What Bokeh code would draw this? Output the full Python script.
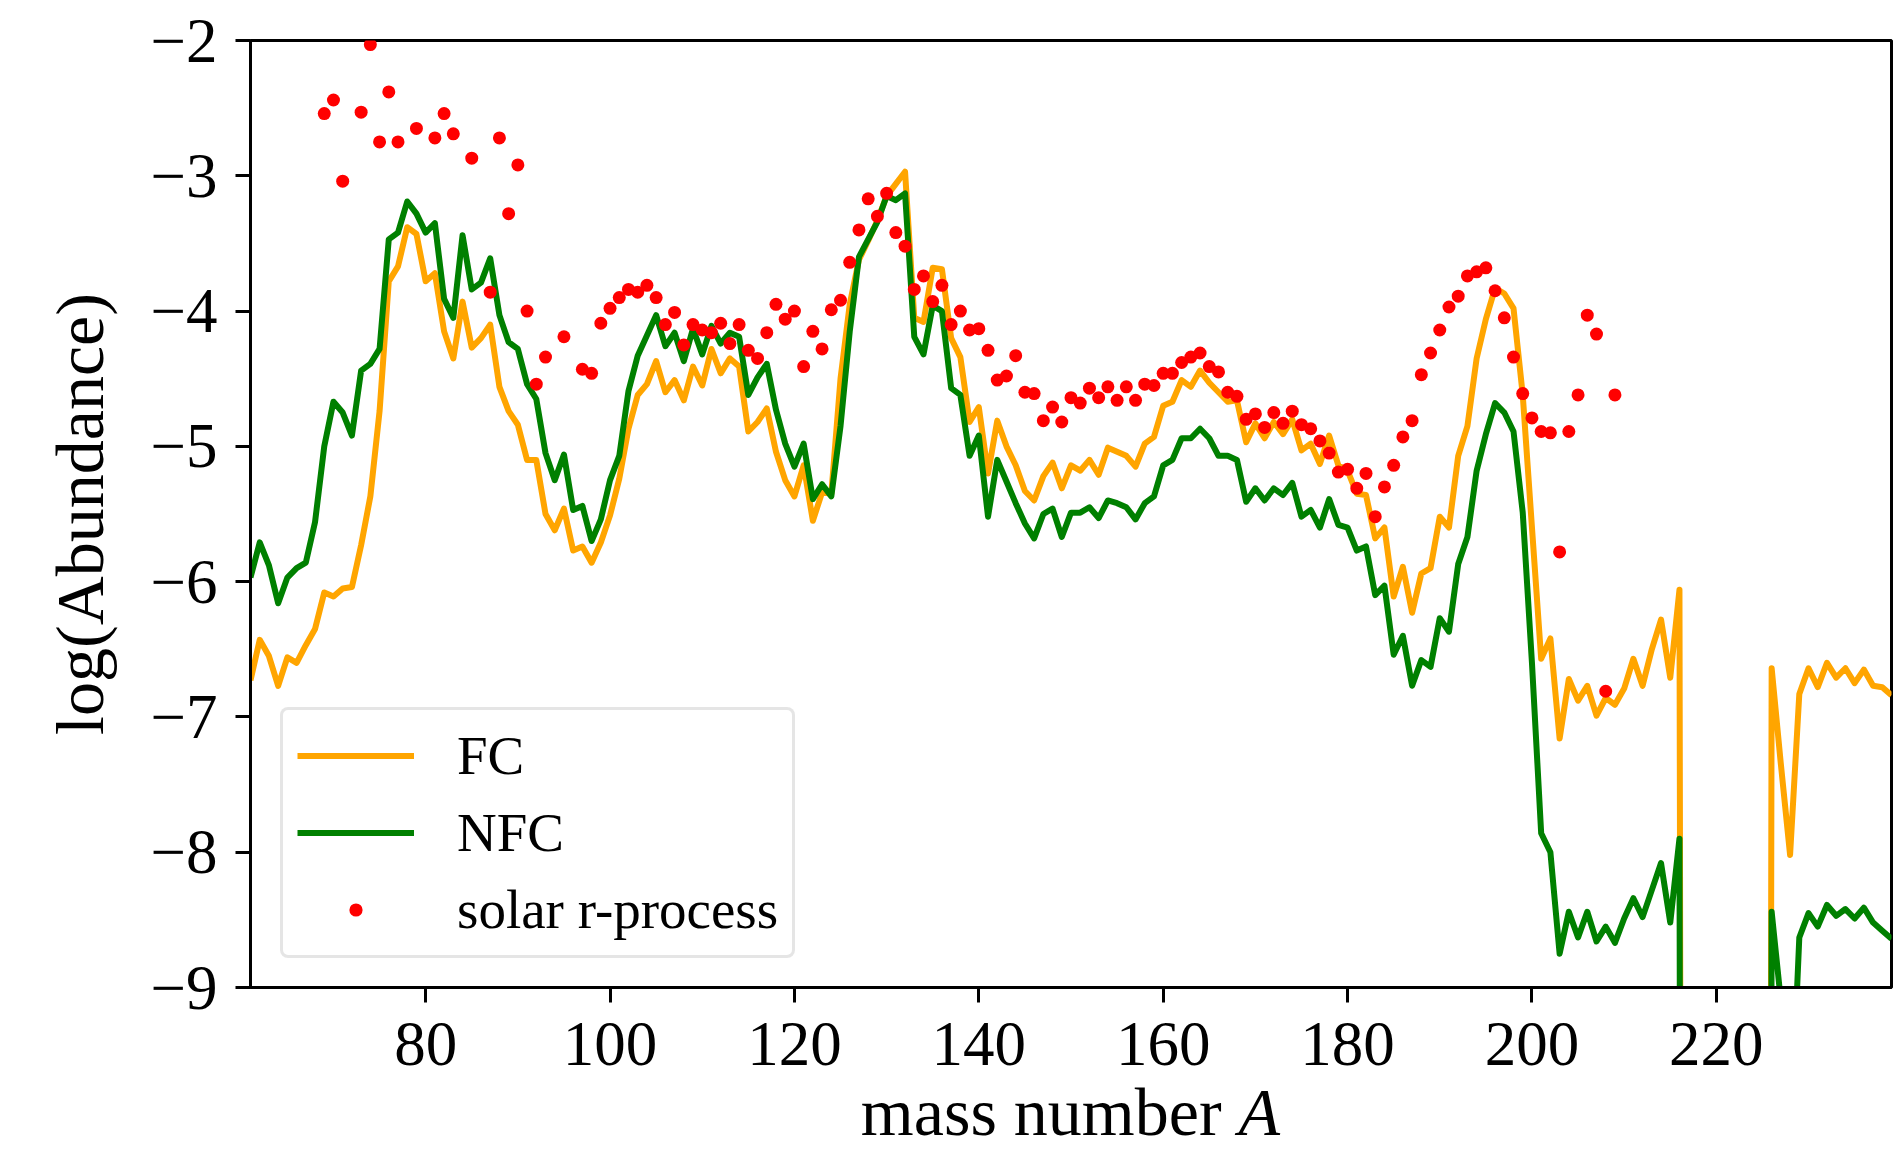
from bokeh.plotting import figure
from bokeh.models import Range1d, FixedTicker, Div
from bokeh.layouts import column
from bokeh.embed import file_html
from bokeh.resources import INLINE

FLOOR = -40.0  # abundance effectively zero: line drops off the plot

mass_A = list(range(61, 240))

fc = [-6.73, -6.43, -6.55, -6.77, -6.56, -6.60, -6.47, -6.35, -6.08, -6.11,
      -6.05, -6.04, -5.73, -5.37, -4.74, -3.78, -3.67, -3.38, -3.43, -3.78,
      -3.72, -4.15, -4.35, -3.93, -4.27, -4.20, -4.10, -4.56, -4.74, -4.84,
      -5.10, -5.10, -5.50, -5.62, -5.46, -5.77, -5.74, -5.86, -5.71, -5.51,
      -5.24, -4.87, -4.62, -4.54, -4.37, -4.60, -4.51, -4.66, -4.41, -4.55,
      -4.28, -4.46, -4.35, -4.41, -4.89, -4.82, -4.72, -5.04, -5.25, -5.37,
      -5.14, -5.55, -5.34, -5.35, -4.50, -3.95, -3.62, -3.48, -3.33, -3.15,
      -3.06, -2.97, -4.05, -4.08, -3.68, -3.69, -4.20, -4.34, -4.82, -4.71,
      -5.20, -4.81, -5.00, -5.14, -5.33, -5.40, -5.22, -5.12, -5.31, -5.14,
      -5.18, -5.10, -5.21, -5.01, -5.04, -5.07, -5.15, -4.98, -4.93, -4.70,
      -4.67, -4.51, -4.56, -4.44, -4.53, -4.60, -4.67, -4.66, -4.97, -4.83,
      -4.94, -4.82, -4.91, -4.80, -5.03, -4.98, -5.13, -4.92, -5.14, -5.18,
      -5.35, -5.36, -5.68, -5.60, -6.11, -5.89, -6.23, -5.94, -5.90, -5.52,
      -5.60, -5.07, -4.85, -4.35, -4.06, -3.83, -3.87, -3.98, -4.62, -5.60,
      -6.57, -6.42, -7.16, -6.72, -6.88, -6.77, -6.99, -6.86, -6.91, -6.79,
      -6.57, -6.77, -6.50, -6.28, -6.71, -6.06, FLOOR, FLOOR, FLOOR, FLOOR,
      FLOOR, FLOOR, FLOOR, FLOOR, FLOOR, -6.64, -7.35, -8.02, -6.83, -6.64,
      -6.78, -6.60, -6.71, -6.64, -6.75, -6.65, -6.77, -6.78, -6.84]

nfc = [-5.97, -5.71, -5.88, -6.16, -5.97, -5.90, -5.86, -5.56, -5.00, -4.67,
       -4.75, -4.92, -4.44, -4.39, -4.28, -3.47, -3.42, -3.19, -3.28, -3.42,
       -3.35, -3.91, -4.05, -3.44, -3.84, -3.79, -3.61, -4.03, -4.23, -4.28,
       -4.54, -4.65, -5.05, -5.25, -5.06, -5.47, -5.44, -5.70, -5.54, -5.25,
       -5.07, -4.59, -4.33, -4.18, -4.03, -4.26, -4.16, -4.37, -4.13, -4.32,
       -4.11, -4.24, -4.16, -4.19, -4.62, -4.49, -4.39, -4.73, -4.98, -5.15,
       -4.98, -5.39, -5.28, -5.37, -4.85, -4.15, -3.60, -3.47, -3.34, -3.15,
       -3.18, -3.13, -4.19, -4.32, -3.96, -4.00, -4.57, -4.62, -5.07, -4.92,
       -5.52, -5.10, -5.26, -5.42, -5.57, -5.68, -5.50, -5.46, -5.67, -5.49,
       -5.49, -5.45, -5.53, -5.40, -5.42, -5.45, -5.54, -5.42, -5.37, -5.14,
       -5.10, -4.94, -4.94, -4.87, -4.94, -5.07, -5.07, -5.10, -5.41, -5.31,
       -5.40, -5.31, -5.36, -5.27, -5.52, -5.47, -5.60, -5.39, -5.58, -5.60,
       -5.77, -5.74, -6.10, -6.03, -6.54, -6.40, -6.77, -6.58, -6.63, -6.27,
       -6.37, -5.87, -5.67, -5.18, -4.91, -4.68, -4.75, -4.89, -5.49, -6.60,
       -7.86, -8.00, -8.75, -8.44, -8.63, -8.44, -8.66, -8.55, -8.67, -8.49,
       -8.34, -8.48, -8.28, -8.08, -8.52, -7.90, FLOOR, FLOOR, FLOOR, FLOOR,
       FLOOR, FLOOR, FLOOR, FLOOR, FLOOR, -8.44, -9.10, -10.2, -8.63, -8.45,
       -8.55, -8.39, -8.47, -8.42, -8.49, -8.41, -8.52, -8.58, -8.64]

solar_A = [69, 70, 71, 73, 74, 75, 76, 77, 79, 81, 82, 83, 85, 87, 88, 89, 90,
           91, 92, 93, 95] + list(range(97, 210))

solar = [-2.54, -2.44, -3.04, -2.53, -2.03, -2.75, -2.38, -2.75, -2.65, -2.72,
         -2.54, -2.69, -2.87, -3.86, -2.72, -3.28, -2.92, -4.00, -4.54, -4.34,
         -4.19,
         -4.43, -4.46, -4.09, -3.98,
         -3.90, -3.84, -3.86, -3.81, -3.90, -4.10, -4.01, -4.25, -4.10, -4.14,
         -4.16, -4.09, -4.24, -4.10, -4.29, -4.35, -4.16, -3.95, -4.06, -4.00,
         -4.41, -4.15, -4.28, -3.99, -3.92, -3.64, -3.40, -3.17, -3.30, -3.13,
         -3.42, -3.52, -3.84, -3.74, -3.93, -3.81, -4.10, -4.00, -4.14, -4.13,
         -4.29, -4.51, -4.48, -4.33, -4.60, -4.61, -4.81, -4.71, -4.82, -4.64,
         -4.68, -4.57, -4.64, -4.56, -4.66, -4.56, -4.66, -4.54, -4.55, -4.46,
         -4.46, -4.38, -4.34, -4.31, -4.41, -4.45, -4.60, -4.63, -4.80, -4.76,
         -4.86, -4.75, -4.83, -4.74, -4.84, -4.87, -4.96, -5.05, -5.19, -5.17,
         -5.31, -5.20, -5.52, -5.30, -5.14, -4.93, -4.81, -4.47, -4.31, -4.14,
         -3.97, -3.89, -3.74, -3.71, -3.68, -3.85, -4.05, -4.34, -4.61, -4.79,
         -4.89, -4.90, -5.78, -4.89, -4.62, -4.03, -4.17, -6.81, -4.62]

x_ticks = [80, 100, 120, 140, 160, 180, 200, 220]
y_ticks = [-9, -8, -7, -6, -5, -4, -3, -2]
y_tick_labels = {t: "\u2212" + str(abs(t)) for t in y_ticks}

assert len(fc) == len(mass_A) == len(nfc)
assert len(solar) == len(solar_A)

FONT = "Liberation Serif"
W, H = 1893, 1085
LEFT, TOP, RIGHT = 250, 40, 2
FRAME_H = 947
X0, X1, Y0, Y1 = 61, 239, -9, -2

p = figure(width=W, height=H, output_backend="svg", toolbar_location=None,
           x_range=Range1d(X0, X1), y_range=Range1d(Y0, Y1),
           min_border_left=LEFT, min_border_top=TOP, min_border_right=RIGHT,
           min_border_bottom=H - TOP - FRAME_H)

p.line(mass_A, fc, color="#FFA500", line_width=6, line_join="round", legend_label="FC")
p.line(mass_A, nfc, color="#008000", line_width=6, line_join="round", legend_label="NFC")
p.scatter(solar_A, solar, size=13, color="#FF0000", line_color=None,
          legend_label="solar r-process")

p.grid.visible = False
p.outline_line_color = "black"
p.outline_line_width = 3
p.outline_line_alpha = 1

for ax in (p.xaxis[0], p.yaxis[0]):
    ax.axis_line_width = 3
    ax.major_tick_line_width = 3
    ax.major_tick_out = 15
    ax.major_tick_in = 0
    ax.minor_tick_line_color = None
    ax.major_label_text_font = FONT
    ax.major_label_text_font_size = "63px"
    ax.major_label_text_color = "black"
    ax.axis_label_text_font = FONT
    ax.axis_label_text_font_style = "normal"
    ax.axis_label_text_font_size = "68px"
    ax.axis_label_text_color = "black"

p.xaxis.ticker = FixedTicker(ticks=x_ticks)
p.yaxis.ticker = FixedTicker(ticks=y_ticks)
p.yaxis.major_label_overrides = y_tick_labels
p.xaxis.major_label_standoff = 20
p.xaxis.major_label_text_line_height = 1.0
p.yaxis.major_label_standoff = 18
p.yaxis.axis_label = "log(Abundance)"
p.yaxis.axis_label_standoff = 29

lg = p.legend[0]
lg.location = (30, 29)
lg.margin = 0
lg.padding = 14
lg.spacing = 14
lg.glyph_width = 117
lg.glyph_height = 33
lg.label_height = 60
lg.label_standoff = 43
lg.label_text_font = FONT
lg.label_text_font_size = "55px"
lg.label_text_color = "black"
lg.border_line_color = "#cccccc"
lg.border_line_width = 3
lg.background_fill_color = "white"
lg.background_fill_alpha = 0.8
if "border_radius" in lg.properties():
    lg.border_radius = 8

# x-axis title (with italic A), centred under the plot frame
xlabel = Div(text="mass number <i>A</i>", width=W - LEFT - RIGHT, height=66,
             margin=(-7, 0, 0, LEFT),
             styles={"font-family": FONT, "font-size": "68px", "line-height": "1",
                     "text-align": "center", "color": "black", "white-space": "nowrap"})

layout = column(p, xlabel, spacing=0)

open("out.html", "w").write(file_html(layout, INLINE))
